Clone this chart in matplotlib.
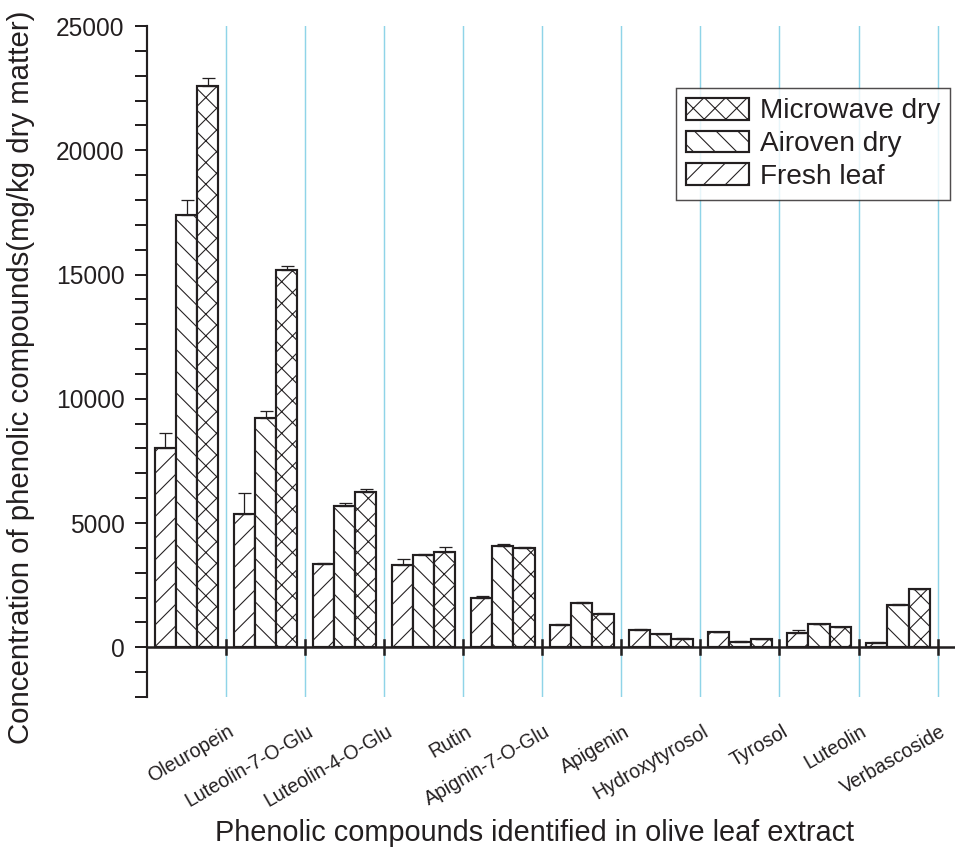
import matplotlib
matplotlib.use("Agg")
import matplotlib.pyplot as plt
import numpy as np

# Phenolic compound concentrations (mg/kg dry matter)
compounds = ['Oleuropein', 'Luteolin-7-O-Glu', 'Luteolin-4-O-Glu', 'Rutin',
             'Apignin-7-O-Glu', 'Apigenin', 'Hydroxytyrosol', 'Tyrosol',
             'Luteolin', 'Verbascoside']
fresh = [8000, 5350, 3340, 3310, 2000, 900, 710, 600, 580, 190]
fresh_err = [630, 860, 70, 240, 50, 30, 40, 20, 100, 20]
airoven = [17400, 9220, 5680, 3700, 4060, 1780, 520, 230, 920, 1720]
airoven_err = [580, 280, 130, 70, 100, 30, 20, 10, 20, 20]
microwave = [22600, 15190, 6240, 3850, 3990, 1340, 350, 335, 800, 2330]
microwave_err = [300, 170, 120, 200, 50, 30, 20, 10, 20, 20]
series_names = ['Fresh leaf', 'Airoven dry', 'Microwave dry']

plt.rcParams['font.family'] = ['Liberation Sans', 'DejaVu Sans']
plt.rcParams['hatch.linewidth'] = 0.6
plt.rcParams['hatch.color'] = '#231f20'

DPI = 130
W, H = 971, 848
fig = plt.figure(figsize=(W / DPI, H / DPI), dpi=DPI)
ax = fig.add_axes([147 / W, 1 - 697 / H, (955 - 147) / W, (697 - 26) / H])

ink = '#231f20'
x = np.arange(len(compounds))
w = 0.268
series = [(fresh, fresh_err, '//'), (airoven, airoven_err, '\\\\'), (microwave, microwave_err, 'xx')]
handles = []
for k, ((vals, errs, hatch), name) in enumerate(zip(series, series_names)):
    pos = x + (k - 1) * w
    b = ax.bar(pos, vals, width=w, facecolor='white', edgecolor=ink,
               linewidth=1.2, hatch=hatch, label=name, zorder=3)
    ax.errorbar(pos, vals, yerr=[np.zeros(len(errs)), errs], fmt='none',
                ecolor=ink, elinewidth=0.7, capsize=3.6, capthick=0.7, zorder=4)
    handles.append(b)

ax.set_xlim(-0.5, 9.72)
ax.set_ylim(-2000, 25000)

# group separators
for b in np.arange(0.5, 10, 1.0):
    ax.axvline(b, color='#8fd4e8', lw=0.8, zorder=1)

for s in ['top', 'right', 'bottom']:
    ax.spines[s].set_visible(False)
ax.spines['left'].set_linewidth(1.2)
ax.spines['left'].set_color(ink)
ax.axhline(0, color=ink, lw=1.4, zorder=5)

ax.set_yticks(np.arange(0, 25001, 5000))
ax.set_yticks(np.arange(-2000, 25001, 1000), minor=True)
ax.tick_params(axis='y', which='both', direction='out', length=6.5, width=1.1,
               color=ink, labelsize=13.6, labelcolor=ink, pad=6)

# group boundary tick marks crossing the zero line
ax.set_xticks([])
for xt in np.arange(0.5, 10, 1.0):
    ax.plot([xt, xt], [-280, 280], color=ink, lw=1.4, zorder=6, clip_on=False)

for i, name in enumerate(compounds):
    ax.annotate(name, xy=(i, 0), xycoords=('data', 'axes fraction'),
                xytext=(51 * 72 / DPI, -25 * 72 / DPI), textcoords='offset points',
                ha='right', va='top', rotation=30, fontsize=10.8, color=ink)

fig.text(535 / W, 1 - 833 / H, 'Phenolic compounds identified in olive leaf extract',
         ha='center', va='center', fontsize=16, color=ink)
fig.text(21 / W, 1 - 377 / H, 'Concentration of phenolic compounds(mg/kg dry matter)',
         ha='center', va='center', rotation=90, fontsize=16.3, color=ink)

leg = ax.legend(handles[::-1], series_names[::-1], loc='upper right',
                bbox_to_anchor=(950 / W, 1 - 88 / H), bbox_transform=fig.transFigure,
                borderaxespad=0, fancybox=False, frameon=True, fontsize=15.5,
                handlelength=2.25, handleheight=0.82, labelspacing=0.22,
                handletextpad=0.4, borderpad=0.35)
leg.get_frame().set_edgecolor(ink)
leg.get_frame().set_linewidth(0.8)
for t in leg.get_texts():
    t.set_color(ink)

fig.savefig('out.png', dpi=DPI)
